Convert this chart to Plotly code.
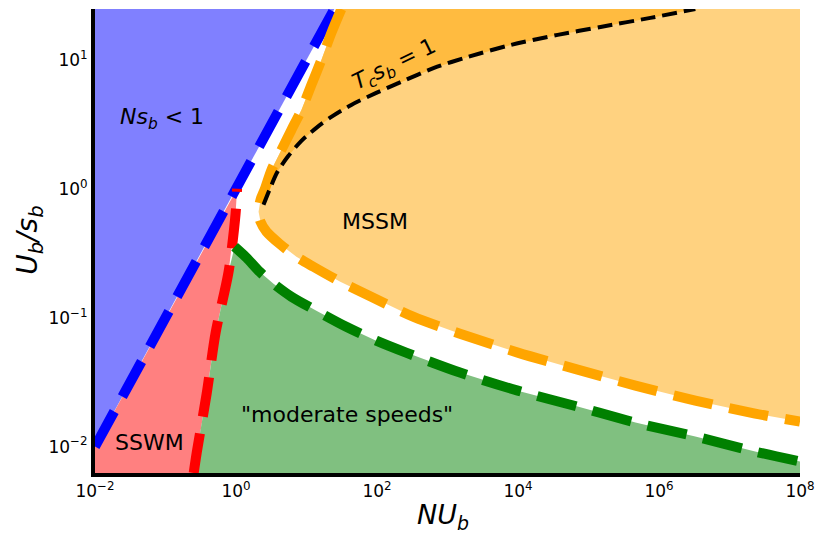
import numpy as np
import plotly.graph_objects as go

# ---- data (log10 units of NU_b and U_b/s_b) ----
x_range_log = [-2.0, 8.0]
y_range_log = [-2.205, 1.395]

# Ns_b = 1 line
blue_lognu = [-2.0, 1.395]
blue_logu = [-2.0, 1.395]

# SSWM / moderate speeds boundary (red), bottom to top
red_lognu = [-0.600, -0.557, -0.416, -0.289, -0.105, -0.006, 0.015]
red_logu = [-2.205, -2.047, -1.589, -1.116, -0.643, -0.194, 0.0]

# moderate speeds upper boundary (green)
green_lognu = [-0.020, 0.150, 0.334, 0.532, 0.786, 1.140, 1.564, 1.989, 2.413,
               3.177, 3.997, 4.846, 5.666, 6.515, 7.364, 8.0]
green_logu = [-0.450, -0.535, -0.643, -0.736, -0.837, -0.946, -1.070, -1.178, -1.271,
              -1.426, -1.566, -1.690, -1.814, -1.922, -2.039, -2.116]

# MSSM boundary (orange), from top along the nose to the right edge
orange_lognu = [1.494, 1.352, 1.211, 1.069, 0.928, 0.786, 0.645, 0.503, 0.405, 0.348,
                0.320, 0.348, 0.433, 0.617, 0.857, 1.098, 1.479, 1.918, 2.512, 3.177,
                3.997, 4.846, 5.666, 6.515, 7.364, 8.0]
orange_logu = [1.395, 1.209, 1.000, 0.806, 0.612, 0.457, 0.302, 0.147, -0.008, -0.085,
               -0.178, -0.256, -0.333, -0.426, -0.527, -0.605, -0.721, -0.837, -0.992, -1.124,
               -1.271, -1.403, -1.527, -1.643, -1.744, -1.806]

# T_c s_b = 1 (black)
black_lognu = [0.390, 0.475, 0.588, 0.744, 0.928, 1.140, 1.352, 1.635, 1.989, 2.342,
               2.809, 3.290, 3.898, 4.563, 5.171, 5.878, 6.515]
black_logu = [-0.124, -0.008, 0.132, 0.256, 0.372, 0.473, 0.558, 0.651, 0.744, 0.829,
              0.938, 1.023, 1.116, 1.194, 1.256, 1.326, 1.395]

x_tick_vals_log = [-2, 0, 2, 4, 6, 8]
x_tick_text = ["10<sup>−2</sup>", "10<sup>0</sup>", "10<sup>2</sup>", "10<sup>4</sup>",
               "10<sup>6</sup>", "10<sup>8</sup>"]
y_tick_vals_log = [-2, -1, 0, 1]
y_tick_text = ["10<sup>−2</sup>", "10<sup>−1</sup>", "10<sup>0</sup>", "10<sup>1</sup>"]


def v(a):
    return list(10.0 ** np.asarray(a, dtype=float))


xl, xr = x_range_log
yb, yt = y_range_log

BLUE_FILL = "#8080FF"
RED_FILL = "#FF8080"
GREEN_FILL = "#80C080"
ORANGE_FILL = "#FFD280"
ORANGE_DARK = "#FFBB40"

fig = go.Figure()


def poly(xs_log, ys_log, color):
    fig.add_trace(go.Scatter(x=v(xs_log), y=v(ys_log), mode="lines", fill="toself",
                             fillcolor=color, line=dict(width=0, color=color),
                             hoverinfo="skip", showlegend=False))


# blue region: above Ns_b = 1
poly([blue_lognu[0], blue_lognu[1], xl, xl], [blue_logu[0], blue_logu[1], yt, yt], BLUE_FILL)

# red region: between blue line and red line
red_top_x, red_top_y = red_lognu[-1], red_logu[-1]
poly([xl, xl, red_top_x] + red_lognu[::-1], [yb, blue_logu[0], red_top_y] + red_logu[::-1], RED_FILL)

# green region: right of red line, below green line
poly(red_lognu[:5] + green_lognu + [xr], red_logu[:5] + green_logu + [yb], GREEN_FILL)

# light orange: right of orange curve
poly(orange_lognu + [xr], orange_logu + [yt], ORANGE_FILL)

# dark orange: between orange upper branch and black curve
up = orange_lognu[:10]
upy = orange_logu[:10]
poly(up[::-1] + [black_lognu[-1]] + black_lognu[::-1],
     upy[::-1] + [black_logu[-1]] + black_logu[::-1], ORANGE_DARK)

DASH = "40px,17px"


def line(xs_log, ys_log, color, width, dash):
    fig.add_trace(go.Scatter(x=v(xs_log), y=v(ys_log), mode="lines",
                             line=dict(color=color, width=width, dash=dash,
                                       shape="spline", smoothing=0.8),
                             hoverinfo="skip", showlegend=False))


line(blue_lognu, blue_logu, "#0000FF", 10, DASH)
line(red_lognu, red_logu, "#FF0000", 10, DASH)
line(green_lognu, green_logu, "#008000", 10, DASH)
line(orange_lognu, orange_logu, "#FFA500", 10, DASH)
line(black_lognu, black_logu, "#000000", 4, "15px,7px")

FONT = "DejaVu Sans"


def note(text, x, y, size, angle=0):
    fig.add_annotation(text=text, x=x, y=y, xref="paper", yref="paper", showarrow=False,
                       font=dict(family=FONT, size=size, color="black"), textangle=angle,
                       xanchor="center", yanchor="middle")


note("<i>Ns</i><sub><i>b</i></sub> &lt; 1", 0.095, 0.765, 22)
note("<i>T</i><sub><i>c</i></sub><i>s</i><sub><i>b</i></sub> = 1", 0.425, 0.878, 22, -26)
note("MSSM", 0.397, 0.541, 22)
note('"moderate speeds"', 0.357, 0.127, 22)
note("SSWM", 0.078, 0.065, 22)
note("<i>NU</i><sub><i>b</i></sub>", 0.494, -0.093, 27)
note("<i>U</i><sub><i>b</i></sub><i>/s</i><sub><i>b</i></sub>", -0.094, 0.502, 28, -90)

fig.update_xaxes(type="log", range=x_range_log, showline=True, linewidth=4, linecolor="black",
                 mirror=False, ticks="", showgrid=False, zeroline=False, automargin=False,
                 tickvals=v(x_tick_vals_log), ticktext=x_tick_text,
                 tickfont=dict(family=FONT, size=17, color="black"))
fig.update_yaxes(type="log", range=y_range_log, showline=True, linewidth=4, linecolor="black",
                 mirror=False, ticks="", showgrid=False, zeroline=False, automargin=False,
                 tickvals=v(y_tick_vals_log), ticktext=y_tick_text,
                 tickfont=dict(family=FONT, size=17, color="black"))

fig.update_layout(width=818, height=533, margin=dict(l=95, r=18, t=9, b=60),
                  plot_bgcolor="white", paper_bgcolor="white")

fig.write_html("out.html")
